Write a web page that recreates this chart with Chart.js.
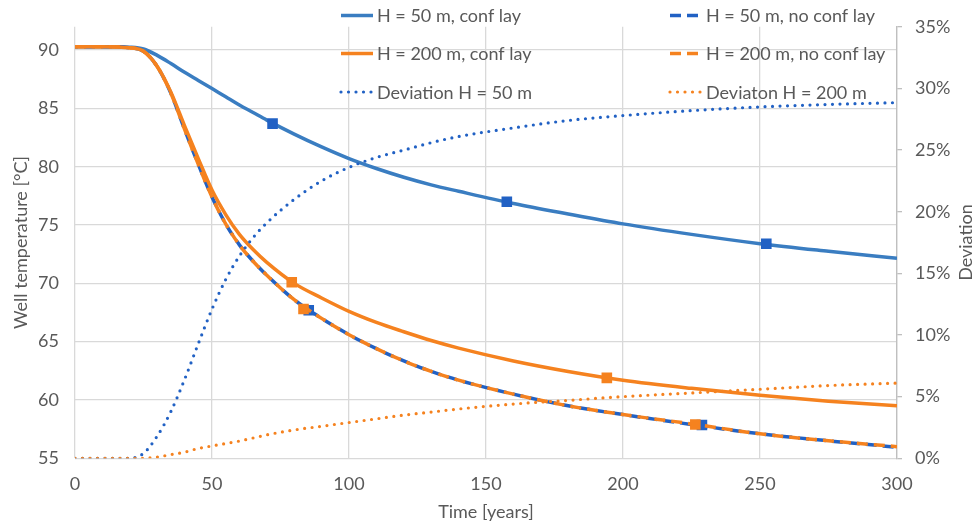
<!DOCTYPE html>
<html>
<head>
<meta charset="utf-8">
<script src="https://cdn.jsdelivr.net/npm/chart.js@4/dist/chart.umd.min.js"></script>
<style>
  html, body { margin: 0; padding: 0; background: #fff; }
  #wrap { width: 976px; height: 523px; }
</style>
</head>
<body>
<div id="wrap"><canvas id="wellChart" width="976" height="523"></canvas></div>
<script>
// time axis [years]
const years = [0, 10, 20, 25, 30, 35, 40, 45, 50, 55, 60, 65, 70, 80, 90, 100, 110, 120, 130, 140, 160, 180, 200, 225, 250, 275, 300];

// well temperature [°C]
const tempH50Conf    = [90.3, 90.3, 90.25, 90.1, 89.55, 88.85, 88.1, 87.4, 86.7, 86.0, 85.3, 84.65, 84.0, 82.8, 81.7, 80.7, 79.85, 79.1, 78.45, 77.9, 76.85, 75.95, 75.1, 74.2, 73.4, 72.75, 72.15];
const tempH50NoConf  = [90.3, 90.3, 90.2, 89.9, 88.6, 86.3, 83.2, 80.2, 77.4, 75.1, 73.3, 71.9, 70.7, 68.6, 67.0, 65.6, 64.4, 63.35, 62.45, 61.7, 60.5, 59.5, 58.75, 57.9, 57.1, 56.5, 55.95];
const tempH200Conf   = [90.3, 90.3, 90.2, 89.9, 88.6, 86.4, 83.5, 80.7, 78.0, 75.9, 74.2, 72.9, 71.8, 70.0, 68.75, 67.6, 66.65, 65.85, 65.1, 64.45, 63.35, 62.45, 61.7, 61.0, 60.4, 59.9, 59.5];
const tempH200NoConf = [90.3, 90.3, 90.2, 89.9, 88.6, 86.3, 83.2, 80.2, 77.4, 75.1, 73.3, 71.9, 70.7, 68.6, 67.0, 65.6, 64.4, 63.35, 62.45, 61.7, 60.5, 59.5, 58.75, 57.95, 57.1, 56.5, 56.0];

// deviation [%]
const devH50  = [0, 0, 0, 0.4, 1.8, 3.8, 6.4, 9.3, 12.1, 14.5, 16.4, 17.9, 19.1, 21.0, 22.5, 23.6, 24.4, 25.0, 25.6, 26.1, 26.8, 27.4, 27.8, 28.2, 28.5, 28.7, 28.85];
const devH200 = [0, 0, 0, 0, 0.1, 0.3, 0.5, 0.8, 1.0, 1.2, 1.4, 1.65, 1.9, 2.3, 2.6, 2.9, 3.2, 3.5, 3.75, 4.0, 4.4, 4.7, 5.0, 5.3, 5.6, 5.9, 6.1];

// single markers drawn on the curves
const markYearsH50Conf = [72.1, 157.6, 252.3];
const markTempH50Conf  = [83.7, 77.0, 73.4];
const markYearsH50NoConf = [85.3, 228.8];
const markTempH50NoConf  = [67.7, 57.85];
const markYearsH200Conf = [79.1, 194.1];
const markTempH200Conf  = [70.1, 61.9];
const markYearsH200NoConf = [83.4, 226.4];
const markTempH200NoConf  = [67.8, 57.9];

const xTicks = [0, 50, 100, 150, 200, 250, 300];

const BLUE = "#3a7dc1";
const BLUE_DARK = "#2161c4";
const ORANGE = "#f5821f";
const TEXT = "#595959";
const GRID = "#d9d9d9";

const pts = (xs, ys) => xs.map((x, i) => ({ x: x, y: ys[i] }));

function curve(label, values, color, dash, axis, order, width) {
    return {
        label: label,
        data: pts(years, values),
        yAxisID: axis,
        borderColor: color,
        backgroundColor: color,
        borderWidth: width || 3.5,
        borderDash: dash,
        borderCapStyle: dash.length && dash[0] === 0 ? "round" : "butt",
        pointRadius: 0,
        cubicInterpolationMode: "monotone",
        fill: false,
        order: order
    };
}

function markers(xs, ys, color, order) {
    return {
        label: "",
        data: pts(xs, ys),
        yAxisID: "y",
        showLine: false,
        pointStyle: "rect",
        pointRadius: 7.5,
        pointBackgroundColor: color,
        pointBorderColor: color,
        borderWidth: 0,
        order: order
    };
}

const datasets = [
    curve("H = 50 m, conf lay", tempH50Conf, BLUE, [], "y", 6),
    curve("H = 50 m, no conf lay", tempH50NoConf, BLUE_DARK, [11, 6], "y", 5),
    curve("H = 200 m, conf lay", tempH200Conf, ORANGE, [], "y", 4),
    curve("H = 200 m, no conf lay", tempH200NoConf, ORANGE, [11, 6], "y", 3),
    curve("Deviation H = 50 m", devH50, BLUE_DARK, [0, 7.5], "y1", 2, 3.2),
    curve("Deviaton H = 200 m", devH200, ORANGE, [0, 7.5], "y1", 1, 3.2),
    markers(markYearsH50Conf, markTempH50Conf, BLUE_DARK, 5.9),
    markers(markYearsH50NoConf, markTempH50NoConf, BLUE_DARK, 4.9),
    markers(markYearsH200Conf, markTempH200Conf, ORANGE, 3.9),
    markers(markYearsH200NoConf, markTempH200NoConf, ORANGE, 2.9)
];
datasets[1].borderDashOffset = 8;

// legend drawn inside the plot, two columns by three rows
const legendLayout = [
    { ds: 0, x: 340, y: 15.5 }, { ds: 1, x: 669, y: 15.5 },
    { ds: 2, x: 340, y: 53.5 }, { ds: 3, x: 669, y: 53.5 },
    { ds: 4, x: 340, y: 92 },   { ds: 5, x: 669, y: 92 }
];

const insideLegend = {
    id: "insideLegend",
    afterDraw(chart) {
        const ctx = chart.ctx;
        ctx.save();
        ctx.font = "18px Lato";
        ctx.textBaseline = "middle";
        ctx.fillStyle = TEXT;
        legendLayout.forEach(item => {
            const ds = chart.data.datasets[item.ds];
            ctx.beginPath();
            ctx.strokeStyle = ds.borderColor;
            ctx.lineWidth = ds.borderWidth;
            ctx.lineCap = ds.borderCapStyle;
            ctx.setLineDash(ds.borderDash);
            ctx.moveTo(item.x + 1, item.y);
            ctx.lineTo(item.x + 33, item.y);
            ctx.stroke();
            ctx.setLineDash([]);
            ctx.fillText(ds.label, item.x + 37, item.y + 1);
        });
        // right axis title, reading bottom to top
        ctx.translate(966, chart.chartArea.top + chart.chartArea.height / 2);
        ctx.rotate(-Math.PI / 2);
        ctx.textAlign = "center";
        ctx.fillText("Deviation", 0, 0);
        ctx.restore();
    }
};

Chart.defaults.font.family = "Lato";
Chart.defaults.font.size = 18;
Chart.defaults.color = TEXT;

new Chart(document.getElementById("wellChart").getContext("2d"), {
    type: "line",
    data: { datasets: datasets },
    options: {
        responsive: false,
        animation: false,
        devicePixelRatio: 1,
        layout: { padding: { top: 26.6, left: 0, right: 0, bottom: 0 } },
        plugins: {
            legend: { display: false },
            tooltip: { enabled: false }
        },
        scales: {
            x: {
                type: "linear",
                min: 0,
                max: 300,
                afterBuildTicks: s => { s.ticks = xTicks.map(v => ({ value: v })); },
                afterFit: s => { s.height = 64.7; },
                ticks: { padding: 15, color: TEXT },
                grid: { color: GRID, lineWidth: 1.3, drawTicks: false },
                border: { display: false },
                title: { display: true, text: "Time [years]", color: TEXT, padding: { top: 0, bottom: 0 } }
            },
            y: {
                position: "left",
                min: 55,
                max: 92,
                afterFit: s => { s.width = 75; },
                ticks: { stepSize: 5, includeBounds: false, padding: 16, color: TEXT },
                grid: { color: GRID, lineWidth: 1.3, drawTicks: false },
                border: { display: false },
                title: { display: true, text: "Well temperature [°C]", color: TEXT, padding: { top: 10, bottom: 0 } }
            },
            y1: {
                position: "right",
                min: 0,
                max: 35,
                afterFit: s => { s.width = 79; },
                ticks: { stepSize: 5, padding: 13, color: TEXT, callback: v => v + "%" },
                grid: { drawOnChartArea: false, drawTicks: true, tickLength: 5, color: "#bfbfbf", lineWidth: 1.3 },
                border: { display: true, color: "#bfbfbf", width: 1.3 }
            }
        }
    },
    plugins: [insideLegend]
});
</script>
</body>
</html>
